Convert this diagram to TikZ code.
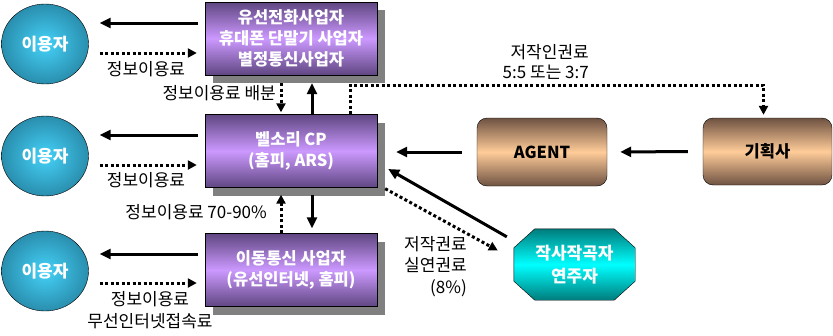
\documentclass[tikz,border=0pt]{standalone}
\usepackage{fontspec}
\setmainfont{Noto Sans CJK KR}
\usetikzlibrary{arrows.meta,shapes.geometric,shadows,backgrounds}

\definecolor{userin}{HTML}{44D2F8}
\definecolor{userout}{HTML}{2A8EAE}
\definecolor{cpdark}{HTML}{5F4681}
\definecolor{cplight}{HTML}{CC99FF}
\definecolor{agdark}{HTML}{6E5242}
\definecolor{aglight}{HTML}{FFCC99}
\definecolor{artdark}{HTML}{007C7C}
\definecolor{artlight}{HTML}{00FFFF}

\begin{document}
\begin{tikzpicture}[
    x=1pt, y=-1pt,
    user node/.style={ellipse, draw=black, inner color=userin, outer color=userout, minimum width=87pt, minimum height=80pt, inner sep=0pt, text=white, font=\bfseries\fontsize{17}{20}\selectfont},
    cp node/.style={rectangle, draw=black, top color=cpdark, bottom color=cpdark, middle color=cplight, minimum width=172pt, minimum height=73pt, inner sep=0pt, align=center, text=white, font=\bfseries\fontsize{16.5}{21}\selectfont, drop shadow={shadow xshift=8pt, shadow yshift=-8pt, fill=gray, opacity=1}},
    biz node/.style={rectangle, rounded corners=10pt, draw=black, top color=agdark, bottom color=agdark, middle color=aglight, minimum width=130pt, minimum height=68pt, inner sep=0pt, font=\bfseries\fontsize{16.5}{20}\selectfont},
    artist node/.style={rectangle, minimum width=121pt, minimum height=71pt, inner sep=0pt, align=center, text=white, font=\bfseries\fontsize{17}{23}\selectfont},
    label text/.style={inner sep=0pt, font=\fontsize{17}{21.5}\selectfont},
    flow/.style={line width=3pt, -{Triangle[length=11pt,width=10pt]}},
    pay/.style={line width=3pt, dash pattern=on 3pt off 2.5pt, -{Triangle[length=9pt,width=9pt]}}
]
\useasboundingbox (0,0) rectangle (833,335);

% 이용자
\node[user node] (user1) at (45,44) {이용자};
\node[user node] (user2) at (45,156) {이용자};
\node[user node] (user3) at (45,271) {이용자};

% 사업자 / CP
\node[cp node] (cp1) at (291,38.5) {유선전화사업자\\휴대폰 단말기 사업자\\별정통신사업자};
\node[cp node] (cp2) at (291,151) {벨소리 CP\\(홈피, ARS)};
\node[cp node] (cp3) at (291,270) {이동통신 사업자\\(유선인터넷, 홈피)};

% AGENT, 기획사, 작사작곡자
\node[biz node] (agent) at (542,152) {AGENT};
\node[biz node, minimum width=129pt, minimum height=67pt] (plan) at (767.5,151.5) {기획사};
\node[artist node] (artist) at (574.5,264.5) {작사작곡자\\연주자};
\begin{scope}[on background layer]
\shade[draw=black, top color=artdark, bottom color=artdark, middle color=artlight]
    ([xshift=21pt]artist.north west) -- ([xshift=-21pt]artist.north east)
    -- ([yshift=-19pt]artist.north east) -- ([yshift=19pt]artist.south east)
    -- ([xshift=-21pt]artist.south east) -- ([xshift=21pt]artist.south west)
    -- ([yshift=19pt]artist.south west) -- ([yshift=-19pt]artist.north west) -- cycle;
\end{scope}

% 이용자 <-> 사업자
\foreach \i/\up/\dn in {1/15.5/14.5, 2/16/14, 3/16/13} {
    \path ([yshift=\up pt]cp\i.west) coordinate (s\i) ([yshift=-\dn pt]cp\i.west) coordinate (d\i);
    \draw[flow, shorten <=7pt, shorten >=11pt] (s\i) -- (s\i -| user\i.east);
    \draw[pay, shorten <=11pt, shorten >=8pt] (d\i -| user\i.east) -- (d\i);
}

% 사업자 사이
\draw[pay, shorten <=8pt, shorten >=2pt] ([xshift=-10pt]cp1.south) -- ([xshift=-10pt]cp2.north);
\draw[flow, shorten >=8pt] ([xshift=21pt]cp2.north) -- ([xshift=21pt]cp1.south);
\draw[pay, shorten >=7pt] ([xshift=-10pt]cp3.north) -- ([xshift=-10pt]cp2.south);
\draw[flow, shorten <=7pt, shorten >=5pt] ([xshift=21pt]cp2.south) -- ([xshift=21pt]cp3.north);

% 저작인권료
\draw[pay, shorten >=3pt] ([xshift=59pt]cp2.north) -- ++(0,-29) -| ([xshift=-4pt]plan.north);

% 기획사 -> AGENT -> CP
\draw[flow, shorten <=15pt, shorten >=13pt] (plan.west) -- (agent.west -| agent.east);
\draw[flow, shorten <=15pt, shorten >=19pt] (agent.west) -- (agent.west -| cp2.east);

% 작사작곡자 <-> CP
\draw[flow] ([xshift=-7pt,yshift=-8pt]artist.north west) -- ([xshift=11pt,yshift=-18pt]cp2.east);
\draw[pay] ([xshift=8pt,yshift=-1pt]cp2.south east) -- ([xshift=-16pt,yshift=14pt]artist.west);

% 라벨
\node[label text] (lbl1) at (146,69) {정보이용료};
\node[label text] (lbl2) at (146,180) {정보이용료};
\node[label text, align=center, font=\fontsize{17}{22}\selectfont] (lbl3) at (150,310) {정보이용료\\무선인터넷접속료};
\node[label text, anchor=east] (lblshare) at (276,93) {정보이용료 배분};
\node[label text, anchor=east] (lblrate) at (267,212) {정보이용료 70-90\%};
\node[label text, align=right, anchor=east, font=\fontsize{17}{20}\selectfont] (lblauthor) at (589,62) {저작인권료\\5:5 또는 3:7};
\node[label text, align=right, anchor=east] (lblcopy) at (467,266.5) {저작권료\\실연권료\\(8\%)};

\end{tikzpicture}
\end{document}
